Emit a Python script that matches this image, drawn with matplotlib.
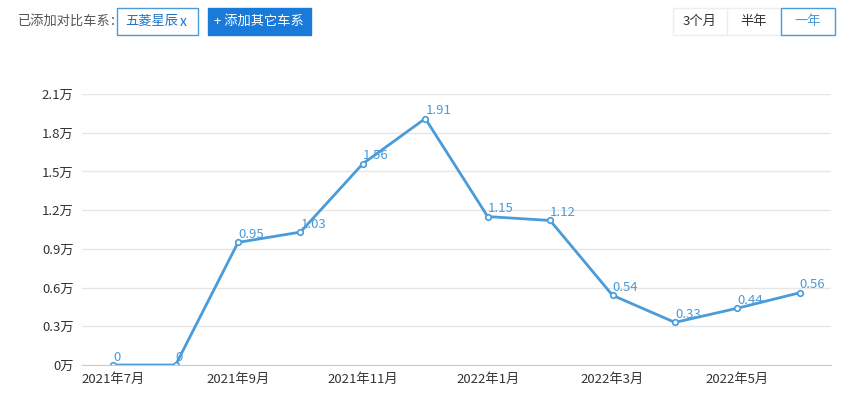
import matplotlib
matplotlib.use("Agg")
import matplotlib.pyplot as plt
from matplotlib.patches import Rectangle

plt.rcParams['font.family'] = ['Noto Sans CJK SC', 'DejaVu Sans']

months = ["2021年7月","2021年8月","2021年9月","2021年10月","2021年11月","2021年12月",
          "2022年1月","2022年2月","2022年3月","2022年4月","2022年5月","2022年6月"]
values = [0, 0, 0.95, 1.03, 1.56, 1.91, 1.15, 1.12, 0.54, 0.33, 0.44, 0.56]
yticks = [0, 0.3, 0.6, 0.9, 1.2, 1.5, 1.8, 2.1]
ytick_labels = ["0万","0.3万","0.6万","0.9万","1.2万","1.5万","1.8万","2.1万"]

W, H = 852, 408
fig = plt.figure(figsize=(W/100, H/100), dpi=100)
# axes: x from 82 to 831 px, y from 365 (0) to 94 (2.1)
ax = fig.add_axes([82/W, 1-365/H, (831-82)/W, (365-94)/H])
color = "#4a9bd9"
x = list(range(len(values)))
ax.plot(x, values, color=color, lw=2)
ax.plot(x, values, 'o', ms=4, mfc='white', mec=color, mew=1.2)
for xi, v in zip(x, values):
    ax.text(xi, v + 0.01, f"{v:g}" if v else "0", color=color, fontsize=9.5, va='bottom', ha='left')
ax.set_xlim(-0.5, 11.5)
ax.set_ylim(0, 2.1)
ax.set_yticks(yticks)
ax.set_yticklabels(ytick_labels, fontsize=9.5, color="#333333")
ax.set_xticks(x[::2])
ax.set_xticklabels(months[::2], fontsize=9.5, color="#333333")
ax.grid(axis='y', color="#e6e6e6", lw=1)
ax.tick_params(length=0, pad=6)
for s in ax.spines.values():
    s.set_visible(False)
ax.spines['bottom'].set_visible(True)
ax.spines['bottom'].set_color("#cccccc")

# top UI
def px(xp, yp):
    return xp/W, 1-yp/H
fig.text(*px(18, 21), "已添加对比车系：", fontsize=9.5, color="#555555", va='center')
def box(x0, y0, w, h, fc, ec):
    fig.patches.append(Rectangle(px(x0, y0+h), w/W, h/H, transform=fig.transFigure,
                                 facecolor=fc, edgecolor=ec, lw=1))
box(117, 8, 81, 27, "white", "#4a9bd9")
fig.text(*px(125, 21), "五菱星辰", fontsize=9.5, color="#1a73c9", va='center')
fig.text(*px(180, 22), "x", fontsize=10, color="#1a73c9", va='center')
box(208, 8, 103, 27, "#1a7ad9", "#1a7ad9")
fig.text(*px(259, 21), "+ 添加其它车系", fontsize=9.5, color="white", va='center', ha='center')
box(673, 8, 54, 27, "white", "#eeeeee")
box(727, 8, 54, 27, "white", "#eeeeee")
box(781, 8, 54, 27, "white", "#4a9bd9")
fig.text(*px(700, 21), "3个月", fontsize=9.5, color="#333333", va='center', ha='center')
fig.text(*px(754, 21), "半年", fontsize=9.5, color="#333333", va='center', ha='center')
fig.text(*px(808, 21), "一年", fontsize=9.5, color="#4a9bd9", va='center', ha='center')

fig.savefig("out.png", dpi=100)
